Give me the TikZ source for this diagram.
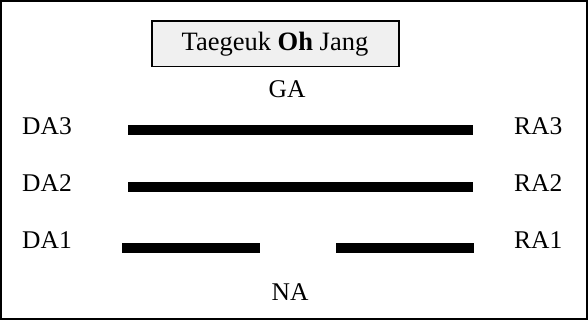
\documentclass[tikz,border=0pt]{standalone}
\usepackage{fontspec}
\setmainfont{Liberation Serif}
\begin{document}
\begin{tikzpicture}[x=1pt,y=-1pt,
  lbl/.style={inner sep=0pt,anchor=base,font=\fontsize{25.5}{28}\selectfont},
  lbll/.style={lbl,anchor=base west},
  bar/.style={fill=black}]
\useasboundingbox (0,0) rectangle (588,320);
\draw[line width=2.2pt] (1.1,1.1) rectangle (586.9,318.9);
\draw[line width=1.5pt,fill=black!6] (152,21) rectangle (399,66.5);
\node[lbl,font=\fontsize{26.5}{30}\selectfont] (title) at (275,51) {Taegeuk \textbf{Oh} Jang};
\node[lbl] (ga) at (287,98) {GA};
\node[lbl] (na) at (290,300) {NA};
\node[lbll] (da3) at (22,135) {DA3};
\node[lbll] (da2) at (22,192) {DA2};
\node[lbll] (da1) at (22,248) {DA1};
\node[lbll] (ra3) at (514,135) {RA3};
\node[lbll] (ra2) at (514,192) {RA2};
\node[lbll] (ra1) at (514,248) {RA1};
\fill[bar] (127.7,124.8) rectangle (472.7,134.8);
\fill[bar] (127.7,182.3) rectangle (472.7,192.3);
\fill[bar] (121.7,243) rectangle (260,253);
\fill[bar] (336,243) rectangle (474,253);
\end{tikzpicture}
\end{document}
